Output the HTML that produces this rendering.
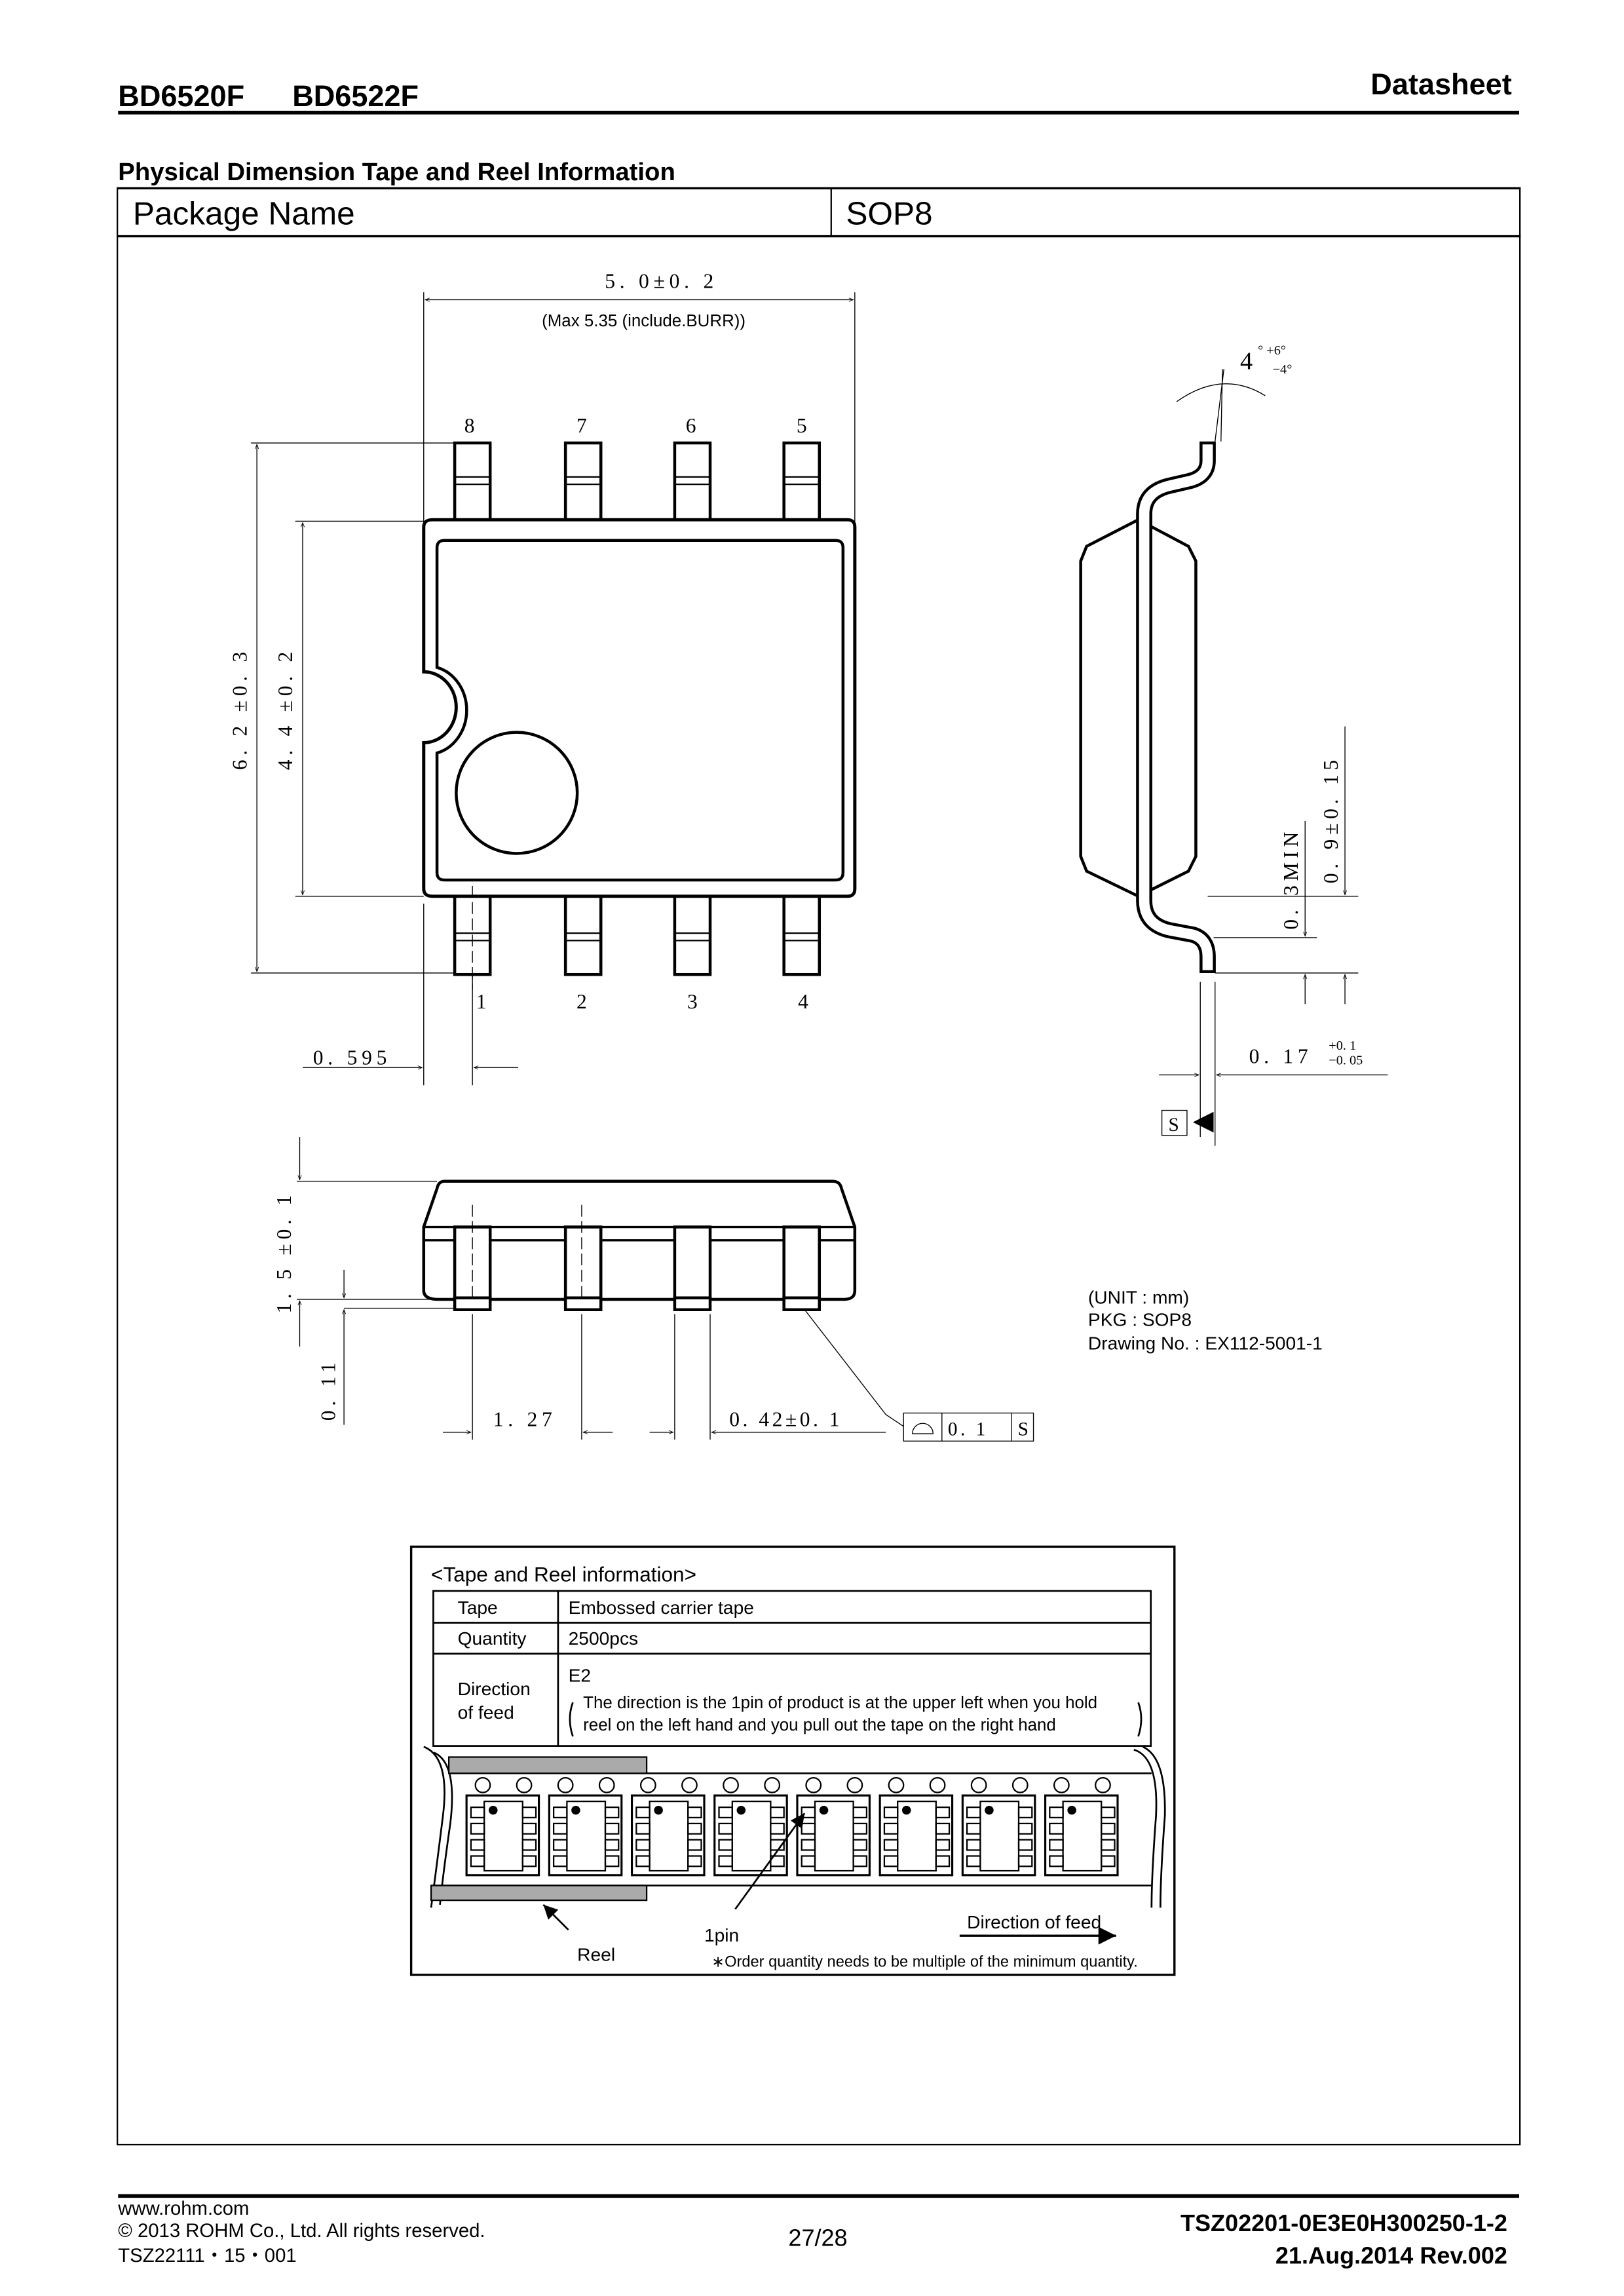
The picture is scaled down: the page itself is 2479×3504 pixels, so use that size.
<!DOCTYPE html>
<html><head><meta charset="utf-8"><style>
html,body{margin:0;padding:0;background:#fff}
svg{display:block}
text{font-family:"Liberation Sans",sans-serif;fill:#000}
.s{font-family:"Liberation Serif",serif}
</style></head><body>
<svg width="2479" height="3504" viewBox="0 0 1100 1555" preserveAspectRatio="none" xmlns="http://www.w3.org/2000/svg">
<defs>
<marker id="a" viewBox="0 0 10 10" refX="10" refY="5" markerWidth="7" markerHeight="5" orient="auto-start-reverse"><path d="M0,1 L10,5 L0,9" fill="none" stroke="#000" stroke-width="1.2"/></marker>
<marker id="f" viewBox="0 0 10 10" refX="10" refY="5" markerWidth="8" markerHeight="8" orient="auto"><path d="M0,0 L10,5 L0,10z" fill="#000"/></marker>
</defs>
<!-- header -->
<text x="80" y="72" font-size="20" font-weight="bold">BD6520F</text>
<text x="198" y="72" font-size="20" font-weight="bold">BD6522F</text>
<text x="1024" y="64" font-size="20" font-weight="bold" text-anchor="end">Datasheet</text>
<rect x="80" y="75" width="949" height="2.5" fill="#000"/>
<text x="80" y="122" font-size="17" font-weight="bold">Physical Dimension Tape and Reel Information</text>
<g fill="none" stroke="#000">
<rect x="79.5" y="127.5" width="950" height="1325" stroke-width="1"/>
<line x1="79" y1="127.5" x2="1030" y2="127.5" stroke-width="1.5"/>
<line x1="79" y1="160" x2="1030" y2="160" stroke-width="1.5"/>
<line x1="563" y1="127" x2="563" y2="160"/>
</g>
<text x="90" y="152" font-size="22">Package Name</text>
<text x="573" y="152" font-size="22">SOP8</text>

<!-- top view -->
<g fill="none" stroke="#000" stroke-width="0.6">
<line x1="287" y1="198" x2="287" y2="354"/><line x1="579" y1="198" x2="579" y2="354"/>
<line x1="288" y1="203" x2="578" y2="203" marker-start="url(#a)" marker-end="url(#a)"/>
<line x1="170" y1="300" x2="318" y2="300"/><line x1="170" y1="659" x2="318" y2="659"/>
<line x1="174" y1="301" x2="174" y2="658" marker-start="url(#a)" marker-end="url(#a)"/>
<line x1="200" y1="353" x2="287" y2="353"/><line x1="200" y1="607" x2="287" y2="607"/>
<line x1="205" y1="354" x2="205" y2="606" marker-start="url(#a)" marker-end="url(#a)"/>
<line x1="287" y1="612" x2="287" y2="735"/><line x1="320" y1="600" x2="320" y2="735"/>
<line x1="205" y1="723" x2="286" y2="723" marker-end="url(#a)"/>
<line x1="351" y1="723" x2="321" y2="723" marker-end="url(#a)"/>
</g>
<text class="s" x="448" y="195" font-size="14" text-anchor="middle" letter-spacing="3">5. 0±0. 2</text>
<text x="436" y="221" font-size="11.5" text-anchor="middle">(Max 5.35 (include.BURR))</text>
<text class="s" font-size="14" transform="translate(167,480) rotate(-90)" text-anchor="middle" letter-spacing="3">6. 2 ±0. 3</text>
<text class="s" font-size="14" transform="translate(198,480) rotate(-90)" text-anchor="middle" letter-spacing="3">4. 4 ±0. 2</text>
<text class="s" x="212" y="721" font-size="14" letter-spacing="3">0. 595</text>
<g class="s" font-size="14" text-anchor="middle">
<text class="s" x="318" y="293">8</text><text class="s" x="394" y="293">7</text><text class="s" x="468" y="293">6</text><text class="s" x="543" y="293">5</text>
<text class="s" x="326" y="683">1</text><text class="s" x="394" y="683">2</text><text class="s" x="469" y="683">3</text><text class="s" x="544" y="683">4</text>
</g>
<g fill="#fff" stroke="#000" stroke-width="2">
<rect x="308" y="300" width="24" height="54"/><rect x="383" y="300" width="24" height="54"/><rect x="457" y="300" width="24" height="54"/><rect x="531" y="300" width="24" height="54"/>
<rect x="308" y="607" width="24" height="53"/><rect x="383" y="607" width="24" height="53"/><rect x="457" y="607" width="24" height="53"/><rect x="531" y="607" width="24" height="53"/>
</g>
<g stroke="#000" stroke-width="1">
<line x1="308" y1="323" x2="332" y2="323"/><line x1="308" y1="328" x2="332" y2="328"/>
<line x1="383" y1="323" x2="407" y2="323"/><line x1="383" y1="328" x2="407" y2="328"/>
<line x1="457" y1="323" x2="481" y2="323"/><line x1="457" y1="328" x2="481" y2="328"/>
<line x1="531" y1="323" x2="555" y2="323"/><line x1="531" y1="328" x2="555" y2="328"/>
<line x1="308" y1="632" x2="332" y2="632"/><line x1="308" y1="637" x2="332" y2="637"/>
<line x1="383" y1="632" x2="407" y2="632"/><line x1="383" y1="637" x2="407" y2="637"/>
<line x1="457" y1="632" x2="481" y2="632"/><line x1="457" y1="637" x2="481" y2="637"/>
<line x1="531" y1="632" x2="555" y2="632"/><line x1="531" y1="637" x2="555" y2="637"/>
</g>
<path d="M293,352 H574 Q579,352 579,357 V602 Q579,607 574,607 H293 Q287,607 287,602 V503 A22,24 0 0 0 287,455 V357 Q287,352 293,352Z" fill="#fff" stroke="#000" stroke-width="2.2"/>
<path d="M301,366 H566 Q571,366 571,371 V591 Q571,596 566,596 H301 Q296,596 296,591 V510 A27,30 0 0 0 296,452 V371 Q296,366 301,366Z" fill="none" stroke="#000" stroke-width="2"/>
<ellipse cx="350" cy="537" rx="41" ry="41" fill="none" stroke="#000" stroke-width="2"/>
<line x1="320" y1="600" x2="320" y2="670" stroke="#000" stroke-width="0.6" stroke-dasharray="8,3"/>

<!-- side view -->
<g fill="none" stroke="#000" stroke-width="0.6">
<line x1="823" y1="299" x2="829" y2="250"/><line x1="827" y1="299" x2="828" y2="250"/>
<path d="M797,272 Q828,250 857,268"/>
<line x1="818" y1="607" x2="920" y2="607"/><line x1="822" y1="635" x2="892" y2="635"/><line x1="823" y1="659" x2="920" y2="659"/>
<line x1="911" y1="492" x2="911" y2="606" marker-end="url(#a)"/><line x1="911" y1="680" x2="911" y2="660" marker-end="url(#a)"/>
<line x1="884" y1="556" x2="884" y2="634" marker-end="url(#a)"/><line x1="884" y1="680" x2="884" y2="660" marker-end="url(#a)"/>
<line x1="813" y1="665" x2="813" y2="770"/><line x1="823" y1="665" x2="823" y2="776"/>
<line x1="785" y1="728" x2="812" y2="728" marker-end="url(#a)"/><line x1="940" y1="728" x2="824" y2="728" marker-end="url(#a)"/>
<rect x="787" y="752" width="17" height="17"/>
</g>
<path d="M808,760 L822,753 L822,767Z" fill="#000"/>
<text class="s" x="795" y="766" font-size="13" text-anchor="middle">S</text>
<text class="s" x="840" y="250" font-size="17">4</text>
<text class="s" x="852" y="240" font-size="9">° +6°</text>
<text class="s" x="862" y="253" font-size="9">−4°</text>
<text class="s" font-size="14" transform="translate(906,555) rotate(-90)" text-anchor="middle" letter-spacing="3">0. 9±0. 15</text>
<text class="s" font-size="14" transform="translate(879,595) rotate(-90)" text-anchor="middle" letter-spacing="3">0. 3MIN</text>
<text class="s" x="846" y="720" font-size="14" letter-spacing="3">0. 17</text>
<text class="s" x="900" y="711" font-size="9">+0. 1</text>
<text class="s" x="900" y="721" font-size="9">−0. 05</text>
<path d="M771,352 L736,370 L732,380 V580 L736,590 L771,607 L805,590 L810,580 V380 L805,370Z" fill="#fff" stroke="#000" stroke-width="2"/>
<path d="M818,299 V312 Q818,323 805,326 L792,329 Q775,333 775,348 V610 Q775,626 792,630 L808,633 Q818,636 818,648 V659" fill="none" stroke="#000" stroke-width="11"/>
<path d="M818,301 V312 Q818,323 805,326 L792,329 Q775,333 775,348 V610 Q775,626 792,630 L808,633 Q818,636 818,648 V657" fill="none" stroke="#fff" stroke-width="7"/>

<!-- bottom view -->
<g fill="none" stroke="#000" stroke-width="0.6">
<line x1="201" y1="800" x2="296" y2="800"/><line x1="201" y1="880" x2="310" y2="880"/>
<line x1="203" y1="770" x2="203" y2="799" marker-end="url(#a)"/>
<line x1="203" y1="912" x2="203" y2="881" marker-end="url(#a)"/>
<line x1="233" y1="886" x2="310" y2="886"/>
<line x1="233" y1="860" x2="233" y2="879" marker-end="url(#a)"/>
<line x1="233" y1="965" x2="233" y2="887" marker-end="url(#a)"/>
<line x1="320" y1="890" x2="320" y2="975"/><line x1="394" y1="890" x2="394" y2="975"/>
<line x1="457" y1="890" x2="457" y2="975"/><line x1="481" y1="890" x2="481" y2="975"/>
<line x1="300" y1="970" x2="319" y2="970" marker-end="url(#a)"/><line x1="415" y1="970" x2="395" y2="970" marker-end="url(#a)"/>
<line x1="440" y1="970" x2="456" y2="970" marker-end="url(#a)"/><line x1="600" y1="970" x2="482" y2="970" marker-end="url(#a)"/>
<polyline points="545,887 600,958 612,966"/>
<rect x="612" y="957" width="88" height="19"/><line x1="638" y1="957" x2="638" y2="976"/><line x1="685" y1="957" x2="685" y2="976"/>
<path d="M618,971 A7,7 0 0 1 632,971 Z"/>
</g>
<text class="s" font-size="14" transform="translate(197,848) rotate(-90)" text-anchor="middle" letter-spacing="3">1. 5 ±0. 1</text>
<text class="s" font-size="14" transform="translate(227,941) rotate(-90)" text-anchor="middle" letter-spacing="3">0. 11</text>
<text class="s" x="334" y="966" font-size="14" letter-spacing="3">1. 27</text>
<text class="s" x="494" y="966" font-size="14" letter-spacing="2">0. 42±0. 1</text>
<text class="s" x="642" y="972" font-size="13" letter-spacing="2">0. 1</text>
<text class="s" x="693" y="972" font-size="13" text-anchor="middle">S</text>
<path d="M301,800 H564 Q569,800 570,805 L579,831 V874 Q579,880 572,880 H297 Q287,880 287,874 V831 L296,805 Q297,800 301,800Z" fill="#fff" stroke="#000" stroke-width="2"/>
<line x1="287" y1="840" x2="579" y2="840" stroke="#000" stroke-width="1.5"/>
<line x1="287" y1="831" x2="579" y2="831" stroke="#000" stroke-width="1.5"/>
<g fill="#fff" stroke="#000" stroke-width="2">
<rect x="308" y="831" width="24" height="49"/><rect x="383" y="831" width="24" height="49"/><rect x="457" y="831" width="24" height="49"/><rect x="531" y="831" width="24" height="49"/>
<rect x="308" y="879" width="24" height="8"/><rect x="383" y="879" width="24" height="8"/><rect x="457" y="879" width="24" height="8"/><rect x="531" y="879" width="24" height="8"/>
</g>
<g stroke="#000" stroke-width="0.6" stroke-dasharray="8,3"><line x1="320" y1="816" x2="320" y2="878"/><line x1="394" y1="816" x2="394" y2="878"/></g>
<text x="737" y="883" font-size="12.5">(UNIT : mm)</text>
<text x="737" y="898" font-size="12.5">PKG : SOP8</text>
<text x="737" y="914" font-size="12.5">Drawing No. : EX112-5001-1</text>

<!-- tape and reel -->
<rect x="278.5" y="1047.5" width="517" height="290" fill="none" stroke="#000" stroke-width="1.5"/>
<text x="292" y="1071" font-size="14">&lt;Tape and Reel information&gt;</text>
<g fill="none" stroke="#000" stroke-width="1.2">
<rect x="293.5" y="1077.5" width="486" height="105"/>
<line x1="293" y1="1099" x2="780" y2="1099"/><line x1="293" y1="1120" x2="780" y2="1120"/>
<line x1="378" y1="1077" x2="378" y2="1183"/>
<path d="M388,1153 Q384,1164 388,1176"/><path d="M771,1153 Q775,1164 771,1176"/>
</g>
<g font-size="12.5">
<text x="310" y="1093">Tape</text><text x="385" y="1093">Embossed carrier tape</text>
<text x="310" y="1114">Quantity</text><text x="385" y="1114">2500pcs</text>
<text x="310" y="1148">Direction</text><text x="310" y="1164">of feed</text>
<text x="385" y="1139">E2</text>
<text x="395" y="1157" font-size="11.5">The direction is the 1pin of product is at the upper left when you hold</text>
<text x="395" y="1172" font-size="11.5">reel on the left hand and you pull out the tape on the right hand</text>
</g>
<g fill="none" stroke="#000" stroke-width="1.2">
<path d="M287,1183 Q305,1190 300,1230 Q295,1270 292,1292"/>
<path d="M294,1187 Q310,1194 305,1235 Q300,1270 298,1290"/>
<path d="M768,1185 Q785,1190 783,1230 Q780,1270 780,1292"/>
<path d="M774,1183 Q790,1190 789,1230 Q786,1270 786,1292"/>
<line x1="304" y1="1201" x2="780" y2="1201"/><line x1="292" y1="1277" x2="780" y2="1277"/>
</g>
<rect x="304" y="1190" width="134" height="11" fill="#aaa" stroke="#000" stroke-width="1"/>
<rect x="292" y="1277" width="146" height="10" fill="#aaa" stroke="#000" stroke-width="1"/>
<g fill="none" stroke="#000" stroke-width="1">
<circle cx="327" cy="1209" r="5"/><circle cx="355" cy="1209" r="5"/><circle cx="383" cy="1209" r="5"/><circle cx="411" cy="1209" r="5"/>
<circle cx="439" cy="1209" r="5"/><circle cx="467" cy="1209" r="5"/><circle cx="495" cy="1209" r="5"/><circle cx="523" cy="1209" r="5"/>
<circle cx="551" cy="1209" r="5"/><circle cx="579" cy="1209" r="5"/><circle cx="607" cy="1209" r="5"/><circle cx="635" cy="1209" r="5"/>
<circle cx="663" cy="1209" r="5"/><circle cx="691" cy="1209" r="5"/><circle cx="719" cy="1209" r="5"/><circle cx="747" cy="1209" r="5"/>
</g>
<g id="pk" fill="none" stroke="#000" stroke-width="1">
<rect x="316" y="1216" width="49" height="54" stroke-width="1.4"/>
<rect x="328" y="1220" width="26" height="47"/>
<rect x="319" y="1224" width="9" height="7"/><rect x="319" y="1235" width="9" height="7"/><rect x="319" y="1246" width="9" height="7"/><rect x="319" y="1257" width="9" height="7"/>
<rect x="354" y="1224" width="9" height="7"/><rect x="354" y="1235" width="9" height="7"/><rect x="354" y="1246" width="9" height="7"/><rect x="354" y="1257" width="9" height="7"/>
<circle cx="334" cy="1226" r="3" fill="#000" stroke="none"/>
</g>
<use href="#pk" x="56"/><use href="#pk" x="112"/><use href="#pk" x="168"/><use href="#pk" x="224"/><use href="#pk" x="280"/><use href="#pk" x="336"/><use href="#pk" x="392"/>
<g stroke="#000" stroke-width="1.2" fill="none">
<line x1="385" y1="1307" x2="368" y2="1290" marker-end="url(#f)"/>
<line x1="498" y1="1293" x2="545" y2="1228" marker-end="url(#f)"/>
<line x1="650" y1="1311" x2="756" y2="1311" marker-end="url(#f)" stroke-width="1.5"/>
</g>
<text x="391" y="1328" font-size="12.5">Reel</text>
<text x="477" y="1315" font-size="12.5">1pin</text>
<text x="655" y="1306" font-size="12.5">Direction of feed</text>
<text x="482" y="1332" font-size="10.5">∗Order quantity needs to be multiple of the minimum quantity.</text>

<!-- footer -->
<rect x="80" y="1486" width="949" height="2.5" fill="#000"/>
<text x="80" y="1500" font-size="13">www.rohm.com</text>
<text x="80" y="1515" font-size="13">© 2013 ROHM Co., Ltd. All rights reserved.</text>
<text x="80" y="1532" font-size="13">TSZ22111・15・001</text>
<text x="554" y="1521" font-size="16" text-anchor="middle">27/28</text>
<text x="1021" y="1511" font-size="16" font-weight="bold" text-anchor="end">TSZ02201-0E3E0H300250-1-2</text>
<text x="1021" y="1533" font-size="16" font-weight="bold" text-anchor="end">21.Aug.2014 Rev.002</text>
</svg>
</body></html>
